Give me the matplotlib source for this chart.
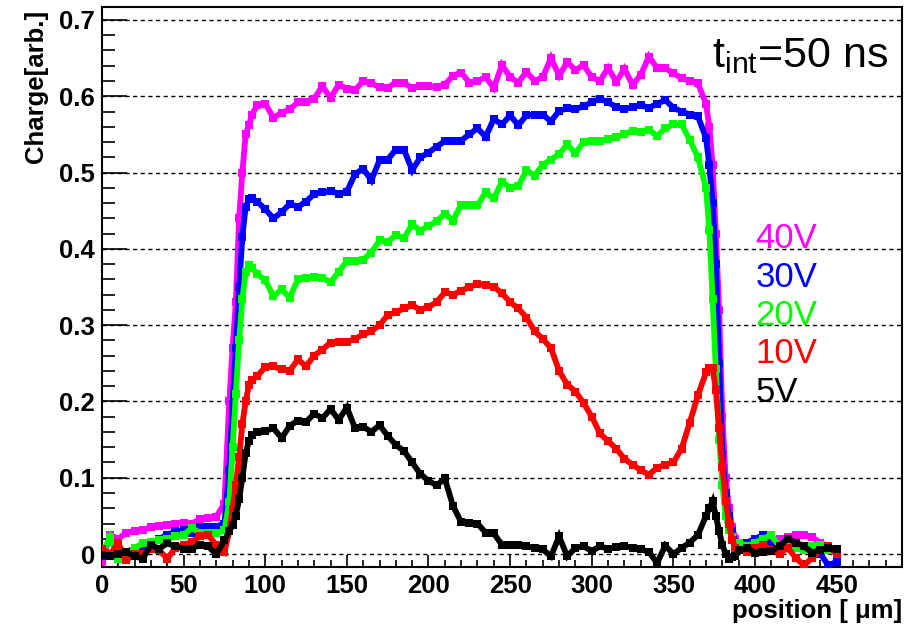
import numpy as np
import matplotlib
matplotlib.use("Agg")
import matplotlib.pyplot as plt
from matplotlib.ticker import MultipleLocator, FuncFormatter

plt.rcParams['font.family'] = ['Liberation Sans', 'DejaVu Sans']
plt.rcParams['mathtext.fontset'] = 'custom'
plt.rcParams['mathtext.rm'] = 'Liberation Sans'
plt.rcParams['mathtext.it'] = 'Liberation Sans:italic'

# scan positions in um (finer steps on the two edges)
x_um = np.r_[0:76:5, 78:93:2, 95:371:5, 372:389:2, 390:451:5]

q40 = [-0.010, 0.025, 0.020, 0.028, 0.030, 0.032, 0.035, 0.037, 0.038, 0.040, 0.041, 0.040, 0.046, 0.047, 0.049, 0.066,
       0.200, 0.270, 0.330, 0.440, 0.500, 0.550, 0.562, 0.576,
       0.588, 0.590, 0.572, 0.578, 0.583, 0.592, 0.593, 0.597, 0.613, 0.598,
       0.615, 0.610, 0.608, 0.620, 0.617, 0.612, 0.611, 0.618, 0.617, 0.611,
       0.614, 0.613, 0.612, 0.615, 0.627, 0.631, 0.618, 0.620, 0.625, 0.611,
       0.641, 0.625, 0.618, 0.632, 0.620, 0.625, 0.650, 0.627, 0.645, 0.634,
       0.641, 0.625, 0.620, 0.637, 0.619, 0.636, 0.615, 0.628, 0.652, 0.637,
       0.637, 0.630, 0.624, 0.620, 0.617, 0.590,
       0.560, 0.510, 0.420, 0.320, 0.180, 0.100, 0.060, 0.035, 0.020,
       0.015, 0.005, 0.010, 0.012, 0.015, 0.020, 0.022, 0.025, 0.025, 0.022, 0.015, 0.010, 0.005]

q30 = [-0.003, -0.003, 0.000, 0.003, 0.007, 0.010, 0.015, 0.020, 0.025, 0.030, 0.031, 0.027, 0.036, 0.036, 0.036, 0.040,
       0.110, 0.196, 0.270, 0.350, 0.416, 0.455, 0.465, 0.466,
       0.462, 0.452, 0.440, 0.448, 0.459, 0.455, 0.462, 0.472, 0.474, 0.476,
       0.472, 0.475, 0.498, 0.505, 0.490, 0.516, 0.517, 0.530, 0.530, 0.503,
       0.520, 0.526, 0.534, 0.541, 0.542, 0.542, 0.550, 0.558, 0.547, 0.570,
       0.563, 0.575, 0.562, 0.575, 0.576, 0.576, 0.567, 0.581, 0.584, 0.583,
       0.587, 0.592, 0.597, 0.592, 0.586, 0.583, 0.586, 0.588, 0.585, 0.590,
       0.595, 0.585, 0.580, 0.576, 0.574, 0.545,
       0.510, 0.460, 0.380, 0.250, 0.130, 0.080, 0.050, 0.030, 0.015,
       0.010, 0.015, 0.020, 0.025, 0.010, 0.012, 0.010, 0.015, 0.010, 0.005, 0.000, -0.015, -0.010]

q20 = [0.000, 0.022, -0.006, 0.000, 0.008, 0.014, 0.016, 0.018, 0.020, 0.023, 0.025, 0.034, 0.028, 0.027, 0.027, 0.031,
       0.068, 0.140, 0.210, 0.280, 0.334, 0.370, 0.379, 0.375,
       0.367, 0.359, 0.338, 0.347, 0.336, 0.360, 0.362, 0.363, 0.362, 0.356,
       0.370, 0.384, 0.384, 0.386, 0.395, 0.411, 0.409, 0.418, 0.414, 0.432,
       0.424, 0.430, 0.436, 0.446, 0.437, 0.458, 0.457, 0.457, 0.474, 0.466,
       0.488, 0.480, 0.482, 0.503, 0.496, 0.510, 0.517, 0.524, 0.537, 0.525,
       0.540, 0.541, 0.541, 0.544, 0.547, 0.550, 0.555, 0.553, 0.556, 0.548,
       0.558, 0.563, 0.563, 0.543, 0.520, 0.480,
       0.425, 0.334, 0.242, 0.150, 0.090, 0.050, 0.032, 0.022, 0.015,
       0.015, 0.010, 0.015, 0.020, 0.025, 0.010, 0.012, 0.008, 0.005, 0.010, 0.012, 0.005, 0.002]

q10 = [0.007, 0.000, 0.014, -0.008, 0.000, 0.000, 0.007, 0.005, -0.006, 0.008, 0.012, 0.016, 0.023, 0.025, 0.012, 0.003,
       0.030, 0.059, 0.090, 0.127, 0.170, 0.200, 0.221, 0.228,
       0.233, 0.245, 0.246, 0.242, 0.240, 0.255, 0.246, 0.260, 0.268, 0.277,
       0.278, 0.278, 0.282, 0.288, 0.292, 0.300, 0.313, 0.317, 0.322, 0.326,
       0.320, 0.324, 0.330, 0.343, 0.340, 0.345, 0.350, 0.354, 0.353, 0.350,
       0.342, 0.330, 0.322, 0.310, 0.292, 0.282, 0.270, 0.240, 0.222, 0.213,
       0.198, 0.180, 0.158, 0.148, 0.138, 0.125, 0.117, 0.110, 0.104, 0.113,
       0.117, 0.120, 0.138, 0.172, 0.208, 0.238,
       0.244, 0.244, 0.215, 0.165, 0.114, 0.070, 0.040, 0.018, 0.008,
       0.005, 0.003, 0.008, 0.012, 0.005, 0.000, 0.008, -0.005, -0.015, -0.005, 0.005, 0.010, 0.000]

q5 = [-0.001, -0.003, 0.000, 0.003, -0.003, -0.006, 0.012, 0.007, 0.014, 0.010, 0.007, 0.007, 0.012, 0.010, 0.000, 0.018,
      0.030, 0.038, 0.050, 0.072, 0.100, 0.132, 0.148, 0.156,
      0.160, 0.161, 0.165, 0.152, 0.168, 0.175, 0.173, 0.184, 0.178, 0.190,
      0.176, 0.192, 0.165, 0.167, 0.160, 0.169, 0.155, 0.143, 0.135, 0.120,
      0.105, 0.096, 0.090, 0.099, 0.063, 0.042, 0.041, 0.040, 0.028, 0.027,
      0.012, 0.012, 0.012, 0.010, 0.008, 0.006, -0.003, 0.023, -0.003, 0.008,
      0.010, 0.004, 0.010, 0.007, 0.009, 0.010, 0.008, 0.006, 0.003, -0.012,
      0.011, 0.000, 0.008, 0.015, 0.025, 0.050,
      0.060, 0.069, 0.050, 0.030, 0.012, 0.000, -0.006, -0.004, -0.003,
      0.005, 0.008, 0.002, 0.003, 0.004, 0.010, 0.020, 0.015, 0.010, 0.002, 0.005, 0.008, 0.006]

labels = ['40V', '30V', '20V', '10V', '5V']
colors = ['#ff00ff', '#0000ff', '#00ff00', '#ff0000', '#000000']
series = [q40, q30, q20, q10, q5]

fig = plt.figure(figsize=(9.12, 6.3), dpi=100)
ax = fig.add_axes([0.1118, 0.1, 0.8772, 0.8889])

for q, c in zip(series, colors):
    ax.plot(x_um, q, color=c, lw=4.2, marker='s', ms=5.5, mew=0,
            solid_joinstyle='miter', zorder=3)

ax.set_xlim(0, 490)
ax.set_ylim(-0.017, 0.717)

ax.xaxis.set_major_locator(MultipleLocator(50))
ax.xaxis.set_minor_locator(MultipleLocator(10))
ax.yaxis.set_major_locator(MultipleLocator(0.1))
ax.yaxis.set_minor_locator(MultipleLocator(0.02))
ax.yaxis.set_major_formatter(FuncFormatter(lambda v, p: '0' if abs(v) < 1e-9 else f'{v:.1f}'))
ax.xaxis.set_major_formatter(FuncFormatter(lambda v, p: f'{v:.0f}'))

ax.tick_params(which='both', direction='in', top=False, right=False, width=1.2,
               labelsize=18.5)
ax.tick_params(axis='y', which='major', length=18, pad=5)
ax.tick_params(axis='y', which='minor', length=9.5)
ax.tick_params(axis='x', which='major', length=9, pad=5)
ax.tick_params(axis='x', which='minor', length=4.8)
for lab in ax.get_xticklabels() + ax.get_yticklabels():
    lab.set_fontweight('bold')

for s in ax.spines.values():
    s.set_linewidth(1.5)

ax.yaxis.grid(True, which='major', color='black', lw=1.0, linestyle=(0, (3, 2.5)), zorder=1)

ax.set_ylabel('Charge[arb.]', fontsize=18.5, fontweight='bold', loc='top')
ax.yaxis.set_label_coords(-0.068, 0.995)
ax.set_xlabel('position [ μm]', fontsize=18.5, fontweight='bold', loc='right')
ax.xaxis.set_label_coords(1.0, -0.057)

ax.text(0.9825, 0.893, r't$_{\mathrm{int}}$=50 ns', transform=ax.transAxes,
        ha='right', va='baseline', fontsize=31)

for i, (lab, c) in enumerate(zip(labels, colors)):
    ax.text(0.817, 0.569 - i * 0.0685, lab, color=c, fontsize=25,
            transform=ax.transAxes, ha='left', va='baseline')

fig.savefig('out.png', dpi=100, facecolor='white')
